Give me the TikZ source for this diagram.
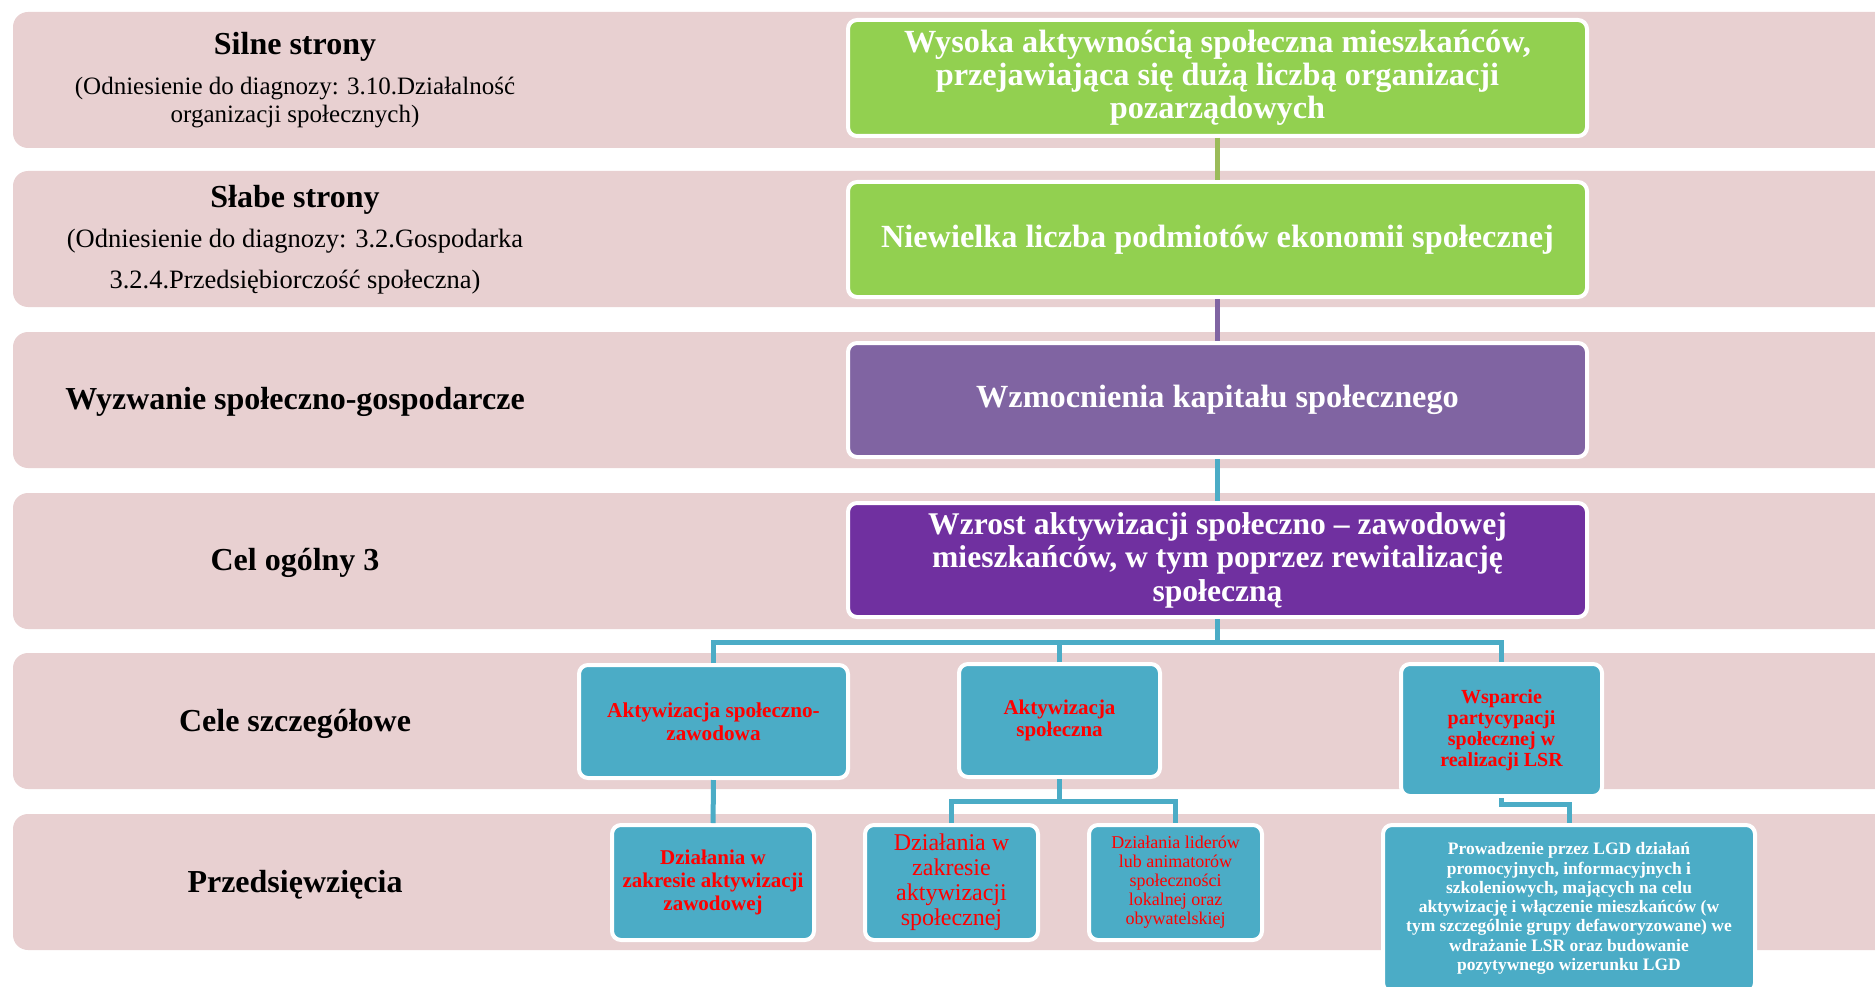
\documentclass[tikz,border=0pt]{standalone}
\usepackage{fontspec}
\setmainfont{Liberation Serif}
\usepackage{tikz}
\usepackage{xcolor}

\definecolor{bandpink}{RGB}{232,208,209}
\definecolor{topgreen}{RGB}{146,208,80}
\definecolor{linkgreen}{RGB}{155,187,89}
\definecolor{softpurple}{RGB}{128,100,162}
\definecolor{deeppurple}{RGB}{112,48,160}
\definecolor{celeblue}{RGB}{75,172,198}
\definecolor{celered}{RGB}{255,0,0}

\begin{document}
\begin{tikzpicture}[x=1pt, y=-1pt,
    band/.style={fill=bandpink, rounded corners=15pt},
    box/.style={draw=white, line width=4pt, rounded corners=9pt, align=center, inner sep=0pt},
    title/.style={font=\fontsize{32}{34}\selectfont\bfseries, align=center},
    link/.style={line width=5pt}]
\useasboundingbox (0,0) rectangle (1875,987);
\clip (0,0) rectangle (1875,987);
% bands
\foreach \y in {12,171,332,493,653,814}
    \fill[band] (13,\y) rectangle (1920,\y+136);
% left labels
\node[title] (silne) at (295,47) {Silne strony};
\node[font=\fontsize{25}{28}\selectfont, align=center] (silnesub) at (295,103) {(Odniesienie do diagnozy: 3.10.Działalność\\organizacji społecznych)};
\node[title] (slabe) at (295,200) {Słabe strony};
\node[font=\fontsize{26.5}{41}\selectfont, align=center] (slabesub) at (295,262) {(Odniesienie do diagnozy: 3.2.Gospodarka\\3.2.4.Przedsiębiorczość społeczna)};
\node[title] (wyzwanie) at (295,402) {Wyzwanie społeczno-gospodarcze};
\node[title] (cel) at (295,563) {Cel ogólny 3};
\node[title] (cele) at (295,724) {Cele szczegółowe};
\node[title] (przed) at (295,885) {Przedsięwzięcia};
% main column
\node[box, fill=topgreen, text=white, minimum width=739pt, minimum height=116pt, font=\fontsize{32.3}{33}\selectfont\bfseries] (t1) at (1217.5,78)
    {Wysoka aktywnością społeczna mieszkańców,\\przejawiająca się dużą liczbą organizacji\\pozarządowych};
\node[box, fill=topgreen, text=white, minimum width=739pt, minimum height=115pt, font=\fontsize{32.3}{33}\selectfont\bfseries] (t2) at (1217.5,239.5)
    {Niewielka liczba podmiotów ekonomii społecznej};
\node[box, fill=softpurple, text=white, minimum width=739pt, minimum height=114pt, font=\fontsize{32.3}{33}\selectfont\bfseries] (t3) at (1217.5,400)
    {Wzmocnienia kapitału społecznego};
\node[box, fill=deeppurple, text=white, minimum width=739pt, minimum height=114pt, font=\fontsize{31.6}{33.5}\selectfont\bfseries] (t4) at (1217.5,560)
    {Wzrost aktywizacji społeczno -- zawodowej\\mieszkańców, w tym poprzez rewitalizację\\społeczną};
% cele szczegolowe
\node[box, fill=celeblue, text=celered, minimum width=269pt, minimum height=113pt, font=\fontsize{21.2}{23}\selectfont\bfseries] (ca) at (713.5,721.5)
    {Aktywizacja społeczno-\\zawodowa};
\node[box, fill=celeblue, text=celered, minimum width=201pt, minimum height=113pt, font=\fontsize{21}{22}\selectfont\bfseries] (cb) at (1059.5,720.5)
    {Aktywizacja\\społeczna};
\node[box, fill=celeblue, text=celered, minimum width=201pt, minimum height=132pt, font=\fontsize{20}{21}\selectfont\bfseries] (cc) at (1501.5,730)
    {Wsparcie\\partycypacji\\społecznej w\\realizacji LSR};
% przedsiewziecia
\node[box, fill=celeblue, text=celered, minimum width=202pt, minimum height=115pt, font=\fontsize{21}{23}\selectfont\bfseries] (d1) at (713,882.5)
    {Działania w\\zakresie aktywizacji\\zawodowej};
\node[box, fill=celeblue, text=celered, minimum width=173pt, minimum height=115pt, font=\fontsize{24}{25}\selectfont] (d2) at (951.5,882.5)
    {Działania w\\zakresie\\aktywizacji\\społecznej};
\node[box, fill=celeblue, text=celered, minimum width=173pt, minimum height=115pt, font=\fontsize{18}{19}\selectfont] (d3) at (1175.5,882.5)
    {Działania liderów\\lub animatorów\\społeczności\\lokalnej oraz\\obywatelskiej};
\node[box, fill=celeblue, text=white, minimum width=372pt, minimum height=167pt, font=\fontsize{17.5}{19.3}\selectfont\bfseries] (d4) at (1569,908.5)
    {Prowadzenie przez LGD działań\\promocyjnych, informacyjnych i\\szkoleniowych, mających na celu\\aktywizację i włączenie mieszkańców (w\\tym szczególnie grupy defaworyzowane) we\\wdrażanie LSR oraz budowanie\\pozytywnego wizerunku LGD};
% connectors
\draw[link, linkgreen] (t1) -- (t2);
\draw[link, softpurple] (t2) -- (t3);
\draw[link, celeblue] (t3) -- (t4);
\coordinate (bus) at (1217.5,642);
\coordinate (bjoin) at (1059.5,801);
\draw[link, celeblue] (t4) -- (bus);
\draw[link, celeblue] (ca.north) |- (bus) -| (cc.north);
\draw[link, celeblue] (cb.north) -- (cb.north |- bus);
\draw[link, celeblue] (ca) -- (d1);
\draw[link, celeblue] (cb.south) -- (bjoin);
\draw[link, celeblue] (d2.north) |- (bjoin) -| (d3.north);
\draw[link, celeblue] (cc.south) -- ++(0,6) -| (d4.north);
\end{tikzpicture}
\end{document}
